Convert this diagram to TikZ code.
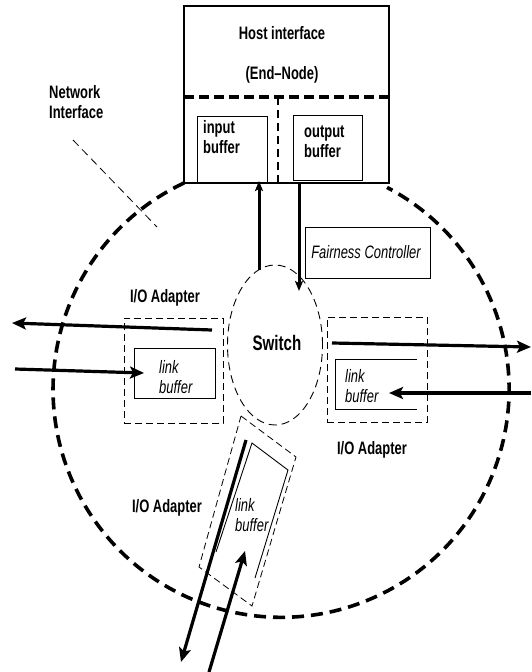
\documentclass[tikz,border=0pt]{standalone}
\usepackage{fontspec}
\setmainfont{Liberation Sans}[FakeStretch=0.72]
\usetikzlibrary{arrows.meta,shapes.geometric}
\begin{document}
\begin{tikzpicture}[x=1pt,y=-1pt,
  lbl/.style={font=\fontsize{18}{20}\selectfont\bfseries, inner sep=0pt, align=center},
  lblL/.style={font=\fontsize{18}{20}\selectfont\bfseries, inner sep=0pt, align=left},
  itl/.style={font=\fontsize{18}{20}\selectfont\itshape, inner sep=0pt, align=left},
  thinbox/.style={draw, line width=0.9pt, inner sep=0pt},
  dbox/.style={draw, line width=0.8pt, dash pattern=on 7pt off 4pt},
  bigarrow/.style={line width=3.2pt, -{Stealth[length=14pt,width=12pt,inset=3pt]}},
  smallarrow/.style={line width=3pt, -{Stealth[length=10pt,width=8pt,inset=2pt]}},
  bigcircle/.style={line width=3.6pt, dash pattern=on 12pt off 7pt},
]
\useasboundingbox (0,0) rectangle (531,672);

% big dashed network-interface circle
\draw[bigcircle] (184,183) arc[start angle=244.8, end angle=-62.3, radius=228];

% host interface box
\node (host) [draw, line width=2.6pt, minimum width=205pt, minimum height=177pt, inner sep=0pt] at (286.5,94.5) {};
\node (hosttxt) [lbl] at (282,33) {Host interface};
\node (endnode) [lbl] at (282,75) {(End--Node)};
\draw[line width=3.2pt, dash pattern=on 10pt off 5pt] (184,97) -- (389,97);
\draw[line width=2.2pt, dash pattern=on 8pt off 5pt] (278,97) -- (278,183);

\node (inbuf) [thinbox, minimum width=70pt, minimum height=66pt] at (232,149) {};
\node (inbuftxt) [lblL, anchor=west] at (203,137) {input\\buffer};
\node (outbuf) [thinbox, minimum width=69pt, minimum height=65pt] at (327.5,147.5) {};
\node (outbuftxt) [lblL, anchor=west] at (304,142) {output\\buffer};

% network interface label
\node (netif) [lblL, anchor=west] at (49,102.5) {Network\\Interface};
\coordinate (netA) at (73,140);
\coordinate (netB) at (157,227);
\draw[line width=0.8pt, dash pattern=on 8pt off 5pt] (netA) -- (netB);

% switch
\node (switch) [ellipse, draw, line width=0.9pt, dash pattern=on 8pt off 5pt, minimum width=95pt, minimum height=160pt, inner sep=0pt] at (275,345) {};
\node (switchtxt) [font=\fontsize{21}{24}\selectfont\bfseries, inner sep=0pt] at (277,343) {Switch};

% fairness controller
\node (fair) [thinbox, minimum width=125pt, minimum height=51pt] at (367.5,252.5) {};
\node (fairtxt) [itl] at (366,252) {Fairness Controller};

% host <-> switch arrows
\coordinate (upS) at (259,270);
\coordinate (upE) at (259,181);
\draw[smallarrow] (upS) -- (upE);
\coordinate (dnS) at (299,183);
\coordinate (dnE) at (299,291);
\draw[smallarrow] (dnS) -- (dnE);

% left I/O adapter
\node (ladtxt) [lbl] at (165,298) {I/O Adapter};
\node (lad) [dbox, minimum width=99pt, minimum height=105pt, inner sep=0pt] at (173.5,370.5) {};
\node (lbuf) [thinbox, minimum width=81pt, minimum height=50pt] at (174.5,373) {};
\node (lbuftxt) [itl, anchor=west] at (159,377) {link\\buffer};
\coordinate (lo1) at (212,330);
\coordinate (lo2) at (12,323);
\draw[bigarrow] (lo1) -- (lo2);
\coordinate (li1) at (15,369);
\coordinate (li2) at (144,373);
\draw[bigarrow] (li1) -- (li2);

% right I/O adapter
\node (radtxt) [lbl] at (372,450) {I/O Adapter};
\node (rad) [dbox, minimum width=100pt, minimum height=105pt, inner sep=0pt] at (377,369.5) {};
\draw[line width=0.9pt] (417,359) -- (335,359) -- (335,409) -- (417,409);
\node (rbuftxt) [itl, anchor=west] at (345,386) {link\\buffer};
\coordinate (ro1) at (332,343);
\coordinate (ro2) at (531,347);
\draw[bigarrow] (ro1) -- (ro2);
\coordinate (ri1) at (531,393);
\coordinate (ri2) at (389,393);
\draw[bigarrow] (ri1) -- (ri2);

% bottom I/O adapter (slanted)
\node (badtxt) [lbl] at (167,508) {I/O Adapter};
\draw[line width=0.8pt, dash pattern=on 7pt off 4pt] (241,416) -- (296,457) -- (252,606) -- (199,567) -- cycle;
\draw[line width=0.9pt] (216,552) -- (252,443) -- (288,470) -- (255,578);
\node (bbuftxt) [itl, anchor=west] at (235,515) {link\\buffer};
\coordinate (bo1) at (246,440);
\coordinate (bo2) at (181,662);
\draw[bigarrow] (bo1) -- (bo2);
\coordinate (bi1) at (209,672);
\coordinate (bi2) at (245,551);
\draw[bigarrow] (bi1) -- (bi2);
\end{tikzpicture}
\end{document}
